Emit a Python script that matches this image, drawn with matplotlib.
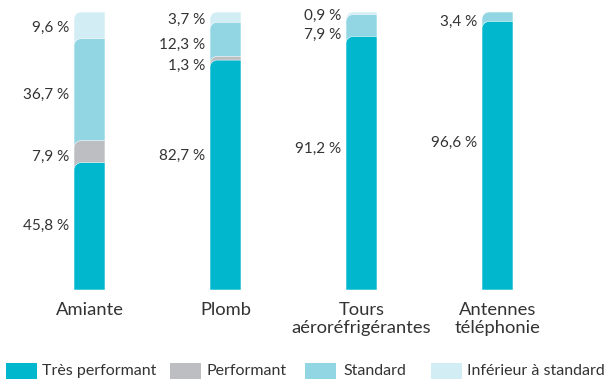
import matplotlib
matplotlib.use("Agg")
import matplotlib.pyplot as plt
from matplotlib.path import Path
from matplotlib.patches import PathPatch, Rectangle
import numpy as np

categories = ["Amiante", "Plomb", "Tours\naéroréfrigérantes", "Antennes\ntéléphonie"]
series_names = ["Très performant", "Performant", "Standard", "Inférieur à standard"]
tres_performant = [45.8, 82.7, 91.2, 96.6]
performant = [7.9, 1.3, 0.0, 0.0]
standard = [36.7, 12.3, 7.9, 3.4]
inferieur = [9.6, 3.7, 0.9, 0.0]

colors = ["#00B7CD", "#BDBEC2", "#93D6E3", "#D3EDF4"]
text_color = "#333333"
FONT = "Lato"

W, H = 613, 379
bottom_px, top_px = 290, 12
px_per_pct = (bottom_px - top_px) / 100

# label baselines in pixel rows (layout), per bar, per series (None = no label)
label_baseline_px = [
    [230, 161, 99, 32],
    [160, 70, 49, 24],
    [153, None, 39, 20],
    [147, None, 26, None],
]

fig = plt.figure(figsize=(W / 100, H / 100), dpi=100)
ax = fig.add_axes([0, (H - bottom_px) / H, 1, (bottom_px - top_px) / H])
step_px = 136
c0_px = 89.5
ax.set_xlim(-c0_px / step_px, (W - c0_px) / step_px)
ax.set_ylim(0, 100)
ax.axis("off")

bar_w = 31 / step_px
rx = 7 / step_px
ry = 7 / px_per_pct
k = 0.5523

def rounded_bar(x0, x1, top):
    verts = [
        (x0, 0), (x0, top - ry),
        (x0, top - ry + k * ry), (x0 + rx - k * rx, top), (x0 + rx, top),
        (x1, top), (x1, 0), (x0, 0),
    ]
    codes = [Path.MOVETO, Path.LINETO, Path.CURVE4, Path.CURVE4, Path.CURVE4,
             Path.LINETO, Path.LINETO, Path.CLOSEPOLY]
    return Path(verts, codes)

data = np.array([tres_performant, performant, standard, inferieur])
cum = np.cumsum(data, axis=0)

for i, cat in enumerate(categories):
    x0 = i - bar_w / 2
    x1 = i + bar_w / 2
    for s in range(3, -1, -1):
        if data[s, i] <= 0:
            continue
        p = PathPatch(rounded_bar(x0, x1, cum[s, i]), facecolor=colors[s],
                      edgecolor="white", linewidth=0.4, zorder=2 + (3 - s))
        ax.add_patch(p)
    for s in range(4):
        lb = label_baseline_px[i][s]
        if lb is None or data[s, i] <= 0:
            continue
        txt = f"{data[s, i]:.1f}".replace(".", ",") + " %"
        ax.text(x0 - 5 / step_px, (bottom_px - lb) / px_per_pct, txt,
                ha="right", va="baseline", fontsize=11, color=text_color,
                family=FONT)
    for j, line in enumerate(cat.split("\n")):
        fig.text((c0_px + i * step_px) / W, 1 - (315 + 17.5 * j) / H, line,
                 ha="center", va="baseline", fontsize=13.2, color=text_color,
                 family=FONT)

# legend
leg_patch_x = [6, 170, 305, 431]
leg_text_x = [42, 207, 343, 467]
for s, name in enumerate(series_names):
    fig.patches.append(Rectangle((leg_patch_x[s] / W, 0), 31 / W, 16 / H,
                                 transform=fig.transFigure, facecolor=colors[s],
                                 edgecolor="none"))
    fig.text(leg_text_x[s] / W, 1 - 375 / H, name, ha="left", va="baseline",
             fontsize=11.5, color=text_color, family=FONT)

fig.savefig("out.png", dpi=100)
